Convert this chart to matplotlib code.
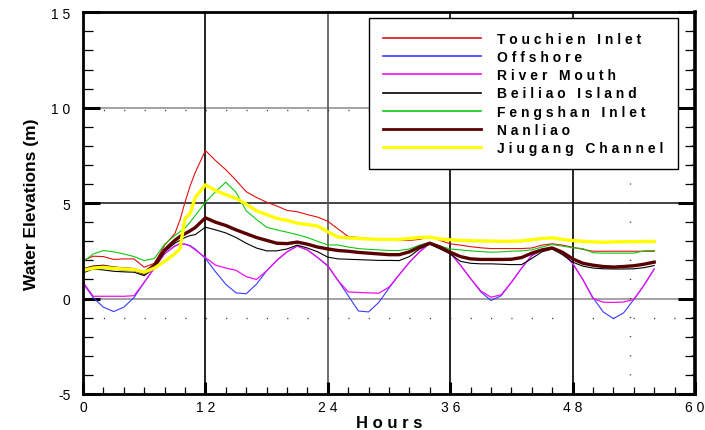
import matplotlib
matplotlib.use("Agg")
import matplotlib.pyplot as plt
from matplotlib.ticker import MultipleLocator

plt.rcParams['font.family'] = ['Liberation Sans', 'DejaVu Sans']

# ---- data: water elevations (m) at the sampled hours ----
hours = [0, 1, 2, 3, 4, 5, 6, 7, 8, 9, 9.5, 10, 10.5, 11, 12, 13, 14, 15, 16, 17,
         18, 19, 20, 21, 22, 23, 24, 25, 26, 27, 28, 29, 30, 31, 32, 33, 34, 35,
         36, 37, 38, 39, 40, 41, 42, 43, 44, 45, 46, 47, 48, 49, 50, 51, 52, 53,
         54, 55, 56]

touchien_inlet = [2.00, 2.22, 2.20, 2.05, 2.08, 2.08, 1.64, 1.85, 2.80, 3.40,
                  4.10, 5.05, 5.90, 6.60, 7.76, 7.23, 6.75, 6.20, 5.60, 5.30,
                  5.05, 4.85, 4.62, 4.55, 4.40, 4.27, 4.05, 3.65, 3.25, 3.20,
                  3.15, 3.10, 3.05, 3.04, 3.05, 3.10, 3.25, 3.05, 2.87, 2.80,
                  2.72, 2.66, 2.62, 2.62, 2.62, 2.62, 2.65, 2.80, 2.87, 2.80,
                  2.69, 2.58, 2.48, 2.48, 2.48, 2.48, 2.48, 2.48, 2.48]

offshore = [0.80, 0.05, -0.45, -0.68, -0.45, 0.05, 0.85, 1.60, 2.35, 2.75,
            2.87, 2.85, 2.78, 2.60, 2.10, 1.40, 0.75, 0.30, 0.25, 0.75,
            1.45, 2.00, 2.45, 2.75, 2.55, 2.15, 1.70, 0.95, 0.15, -0.65,
            -0.70, -0.20, 0.55, 1.25, 1.90, 2.45, 2.90, 2.75, 2.40, 1.75,
            1.05, 0.35, -0.10, 0.15, 0.85, 1.60, 2.25, 2.55, 2.66, 2.40,
            1.85, 1.00, 0.05, -0.70, -1.05, -0.75, -0.05, 0.70, 1.55]

river_mouth = [0.86, 0.12, 0.12, 0.12, 0.12, 0.15, 0.85, 1.60, 2.35, 2.75,
               2.87, 2.85, 2.75, 2.55, 2.15, 1.75, 1.60, 1.48, 1.15, 1.00,
               1.45, 2.00, 2.45, 2.75, 2.55, 2.15, 1.73, 0.95, 0.35, 0.32,
               0.30, 0.28, 0.60, 1.25, 1.90, 2.45, 2.90, 2.75, 2.40, 1.75,
               1.05, 0.40, 0.07, 0.20, 0.85, 1.60, 2.25, 2.55, 2.66, 2.40,
               1.85, 1.00, 0.00, -0.19, -0.20, -0.18, -0.05, 0.70, 1.55]

beiliao_island = [1.35, 1.55, 1.50, 1.43, 1.40, 1.38, 1.20, 1.60, 2.45, 2.90,
                  3.05, 3.20, 3.30, 3.35, 3.74, 3.60, 3.44, 3.20, 2.90, 2.65,
                  2.50, 2.50, 2.60, 2.80, 2.65, 2.45, 2.17, 2.08, 2.06, 2.04,
                  2.02, 2.00, 2.00, 1.99, 2.20, 2.60, 2.85, 2.60, 2.34, 1.95,
                  1.85, 1.82, 1.82, 1.80, 1.78, 1.78, 2.10, 2.45, 2.60, 2.30,
                  1.91, 1.70, 1.60, 1.56, 1.55, 1.55, 1.56, 1.62, 1.73]

fengshan_inlet = [1.91, 2.34, 2.52, 2.45, 2.34, 2.20, 1.99, 2.10, 2.85, 3.30,
                  3.50, 3.70, 4.00, 4.35, 5.05, 5.60, 6.10, 5.57, 4.60, 4.15,
                  3.74, 3.60, 3.48, 3.35, 3.20, 3.00, 2.81, 2.81, 2.70, 2.62,
                  2.58, 2.55, 2.52, 2.52, 2.60, 2.80, 2.95, 2.75, 2.60, 2.55,
                  2.50, 2.46, 2.43, 2.45, 2.48, 2.50, 2.55, 2.70, 2.83, 2.75,
                  2.66, 2.62, 2.40, 2.38, 2.38, 2.38, 2.38, 2.50, 2.52]

nanliao = [1.50, 1.65, 1.69, 1.60, 1.55, 1.52, 1.33, 1.75, 2.55, 3.05,
           3.25, 3.40, 3.55, 3.72, 4.23, 4.00, 3.83, 3.60, 3.40, 3.20,
           3.05, 2.90, 2.88, 2.96, 2.85, 2.70, 2.60, 2.52, 2.48, 2.42,
           2.38, 2.34, 2.30, 2.30, 2.45, 2.70, 2.90, 2.70, 2.43, 2.20,
           2.08, 2.05, 2.05, 2.05, 2.06, 2.15, 2.38, 2.55, 2.65, 2.43,
           2.08, 1.85, 1.75, 1.68, 1.65, 1.68, 1.72, 1.80, 1.91]

jiugang_channel = [1.48, 1.60, 1.64, 1.58, 1.55, 1.52, 1.38, 1.60, 1.95, 2.35,
                   2.60, 4.20, 4.45, 5.30, 5.96, 5.66, 5.44, 5.25, 4.95, 4.60,
                   4.40, 4.20, 4.10, 3.95, 3.88, 3.80, 3.50, 3.22, 3.18, 3.15,
                   3.12, 3.10, 3.10, 3.10, 3.15, 3.20, 3.22, 3.12, 3.08, 3.05,
                   3.03, 3.02, 3.01, 3.00, 3.00, 3.02, 3.08, 3.15, 3.18, 3.10,
                   3.04, 3.00, 2.97, 2.95, 2.97, 2.98, 2.98, 2.99, 2.99]

series_names = ["Touchien Inlet", "Offshore", "River Mouth", "Beiliao Island",
                "Fengshan Inlet", "Nanliao", "Jiugang Channel"]

x_ticks = [0, 12, 24, 36, 48, 60]
x_tick_labels = ["0", "1 2", "2 4", "3 6", "4 8", "6 0"]
y_ticks = [-5, 0, 5, 10, 15]
y_tick_labels = ["-5", "0", "5", "1 0", "1 5"]


def spaced(text, sep=" "):
    """Wide-tracked label text."""
    return sep.join(text)


series = [touchien_inlet, offshore, river_mouth, beiliao_island,
          fengshan_inlet, nanliao, jiugang_channel]
colors = ["#e01010", "#3a3aff", "#ee10ee", "#000000", "#10c810", "#5a0000", "#ffff00"]
widths = [0.8, 0.8, 0.9, 0.8, 0.8, 2.4, 2.4]

fig = plt.figure(figsize=(7.05, 4.31), dpi=100)
ax = fig.add_axes([83 / 705, 36 / 431, 612 / 705, 381.7 / 431])

ax.set_xlim(0, 60)
ax.set_ylim(-5, 15)

# pick the legend letter tracking so the first label is ~142 px wide
legend_font = {"size": 10, "weight": "bold"}
renderer = fig.canvas.get_renderer()
best_sep, best_err = " ", None
for sep in [" ", " \u200a", " \u2009", " \u2006", " \u2005", " \u2004", "  "]:
    probe = fig.text(0, 0, spaced(series_names[0], sep), **legend_font)
    w = probe.get_window_extent(renderer).width
    probe.remove()
    err = abs(w - 142)
    if best_err is None or err < best_err:
        best_sep, best_err = sep, err

# major grid
for yv, c in [(0, "#8a8a8a"), (5, "#111111"), (10, "#8a8a8a")]:
    ax.axhline(yv, color=c, lw=1.1, zorder=1)
for xv, c in [(12, "#000000"), (24, "#555555"), (36, "#000000"), (48, "#000000")]:
    ax.axvline(xv, color=c, lw=1.2, zorder=1)

# sparse dotted grid lines
ax.plot([0, 60], [-1, -1], color="#333333", lw=1.0,
        linestyle=(0, (0.8, 13.87)), zorder=1)
ax.plot([0, 60], [9.9, 9.9], color="#333333", lw=1.0,
        linestyle=(0, (0.8, 13.87)), zorder=1)
for xv in (53.6, 59.7):
    ax.plot([xv, xv], [-5, 15], color="#333333", lw=1.0,
            linestyle=(0, (0.8, 12.94)), zorder=1)

for name, vals, c, w in zip(series_names, series, colors, widths):
    ax.plot(hours, vals, color=c, lw=w, label=spaced(name, best_sep), zorder=3)

ax.set_xticks(x_ticks)
ax.set_xticklabels(x_tick_labels)
ax.set_yticks(y_ticks)
ax.set_yticklabels(y_tick_labels)
ax.xaxis.set_minor_locator(MultipleLocator(2))
ax.yaxis.set_minor_locator(MultipleLocator(1))

ax.tick_params(axis="x", which="major", direction="in", length=9, width=2.2,
               labelsize=10, pad=4, top=False)
ax.tick_params(axis="x", which="minor", direction="in", length=5, width=0.9, top=False)
ax.tick_params(axis="y", which="major", direction="in", length=12, width=2.2,
               labelsize=10, pad=9, right=True)
ax.tick_params(axis="y", which="minor", direction="in", length=7, width=0.9, right=True)

for side, s in ax.spines.items():
    s.set_linewidth(2.6 if side == "right" else 2.0)
    s.set_zorder(5)

ax.set_xlabel(spaced("Hours"), fontsize=12, fontweight="bold", labelpad=1)
ax.set_ylabel("Water Elevations (m)", fontsize=12.5, fontweight="bold", labelpad=9)

leg = ax.legend(loc="upper left", bbox_to_anchor=(0.467, 0.985),
                prop=legend_font, handlelength=7.1,
                handletextpad=1.15, labelspacing=0.3, borderpad=1.0,
                borderaxespad=0, fancybox=False, framealpha=1,
                edgecolor="black")
leg.get_frame().set_linewidth(1.0)
leg.set_zorder(6)
for h in leg.get_lines():
    h.set_linewidth(1.2 if h.get_linewidth() < 2 else 2.0)

fig.savefig("out.png", dpi=100)
